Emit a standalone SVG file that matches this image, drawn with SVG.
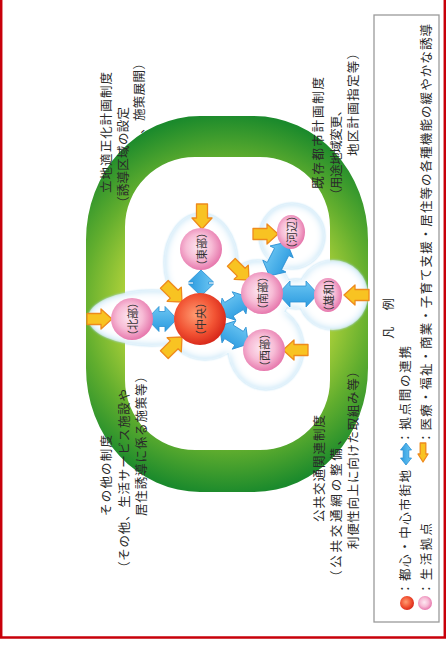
<svg xmlns="http://www.w3.org/2000/svg" xmlns:xlink="http://www.w3.org/1999/xlink" width="446" height="649" viewBox="0 0 446 649">
<style>
.t{font-family:"Noto Sans CJK JP","Noto Sans CJK SC",sans-serif;font-size:12.5px;fill:#2a2a2a;dominant-baseline:central}
.nl{font-family:"Noto Sans CJK JP","Noto Sans CJK SC",sans-serif;font-size:11px;fill:#333;dominant-baseline:central;text-anchor:middle}
.ya{fill:#f8c322;stroke:#ee8a1c;stroke-width:1.3;stroke-linejoin:round}
.ba{fill:url(#bg);stroke:#2a8fd3;stroke-width:0.8;stroke-linejoin:round}
.pk{fill:url(#pg)}
</style>
<defs>
<radialGradient id="gg" gradientUnits="userSpaceOnUse" cx="227" cy="304" r="200">
<stop offset="0.5" stop-color="#b0d23a"/>
<stop offset="0.72" stop-color="#62ae2e"/>
<stop offset="0.95" stop-color="#1b8a2c"/>
</radialGradient>
<radialGradient id="pg" cx="0.45" cy="0.45" r="0.55">
<stop offset="0" stop-color="#fde9f2"/>
<stop offset="0.55" stop-color="#f7bcd6"/>
<stop offset="1" stop-color="#e77aae"/>
</radialGradient>
<radialGradient id="rg" cx="0.42" cy="0.42" r="0.6">
<stop offset="0" stop-color="#ff9c72"/>
<stop offset="0.6" stop-color="#f25434"/>
<stop offset="1" stop-color="#d8281a"/>
</radialGradient>
<linearGradient id="bg" x1="0" y1="0" x2="0" y2="1">
<stop offset="0" stop-color="#6cc6f2"/>
<stop offset="1" stop-color="#2c9be0"/>
</linearGradient>
<filter id="b1" x="-20%" y="-20%" width="140%" height="140%"><feGaussianBlur stdDeviation="0.8"/></filter>
<filter id="b5" x="-30%" y="-30%" width="160%" height="160%"><feGaussianBlur stdDeviation="4.5"/></filter>
<ellipse id="h1" cx="152" cy="318" rx="64" ry="28"/>
<ellipse id="h2" cx="201" cy="263" rx="37" ry="50"/>
<ellipse id="h3" cx="258" cy="292" rx="33" ry="32"/>
<ellipse id="h4" cx="266" cy="348" rx="38" ry="42"/>
<ellipse id="h5" cx="205" cy="322" rx="40" ry="38"/>
<ellipse id="h6" cx="292" cy="236" rx="33" ry="33"/>
<ellipse id="h7" cx="333" cy="295" rx="35" ry="35"/>
<ellipse id="h8" cx="296" cy="294" rx="20" ry="15"/>
<clipPath id="hc">
<use xlink:href="#h1"/><use xlink:href="#h2"/><use xlink:href="#h3"/><use xlink:href="#h4"/><use xlink:href="#h5"/><use xlink:href="#h6"/><use xlink:href="#h7"/><use xlink:href="#h8"/>
</clipPath>
<polygon id="yarr" points="-25,-5.5 -11,-5.5 -11,-10 0,0 -11,10 -11,5.5 -25,5.5"/>
</defs>
<rect width="446" height="649" fill="#fff"/>
<g id="ring">
<path fill="url(#gg)" fill-rule="evenodd" d="M200,116 H254 A114,124 0 0 1 368,240 V368 A114,124 0 0 1 254,492 H200 A114,124 0 0 1 86,368 V240 A114,124 0 0 1 200,116 Z M195,157 H260 A70,70 0 0 1 330,227 V380 A70,70 0 0 1 260,450 H195 A70,70 0 0 1 125,380 V227 A70,70 0 0 1 195,157 Z"/>
</g>
<g id="halos">
<g fill="#a9d8f3" filter="url(#b1)">
<use xlink:href="#h1"/><use xlink:href="#h2"/><use xlink:href="#h3"/><use xlink:href="#h4"/><use xlink:href="#h5"/><use xlink:href="#h6"/><use xlink:href="#h7"/><use xlink:href="#h8"/>
</g>
<g clip-path="url(#hc)">
<g fill="#fff" filter="url(#b5)">
<use xlink:href="#h1"/><use xlink:href="#h2"/><use xlink:href="#h3"/><use xlink:href="#h4"/><use xlink:href="#h5"/><use xlink:href="#h6"/><use xlink:href="#h7"/><use xlink:href="#h8"/>
</g>
</g>
</g>
<g id="connectors">
<polygon class="ba" transform="translate(162,319)" points="-15,0 -3,-12.5 -3,-7.5 3,-7.5 3,-12.5 15,0 3,12.5 3,7.5 -3,7.5 -3,12.5"/>
<polygon class="ba" transform="translate(201,283) rotate(90)" points="-13,0 -1,-12.5 -1,-7.5 1,-7.5 1,-12.5 13,0 1,12.5 1,7.5 -1,7.5 -1,12.5"/>
<polygon class="ba" transform="translate(234,306) rotate(-32)" points="-17,0 -6,-13 -6,-8 6,-8 6,-13 17,0 6,13 6,8 -6,8 -6,13"/>
<polygon class="ba" transform="translate(234,335) rotate(32)" points="-17,0 -6,-13 -6,-8 6,-8 6,-13 17,0 6,13 6,8 -6,8 -6,13"/>
<polygon class="ba" transform="translate(298,294)" points="-20,0 -8,-13 -8,-8 8,-8 8,-13 20,0 8,13 8,8 -8,8 -8,13"/>
<polygon class="ba" transform="translate(278,259) rotate(-63)" points="-19,0 -8,-13 -8,-8 8,-8 8,-13 19,0 8,13 8,8 -8,8 -8,13"/>
<use class="ya" xlink:href="#yarr" transform="translate(112,319)"/>
<use class="ya" xlink:href="#yarr" transform="translate(202,229) rotate(90)"/>
<use class="ya" xlink:href="#yarr" transform="translate(278,234)"/>
<use class="ya" xlink:href="#yarr" transform="translate(182,302) rotate(45)"/>
<use class="ya" xlink:href="#yarr" transform="translate(182,337) rotate(-45)"/>
<use class="ya" xlink:href="#yarr" transform="translate(249,280) rotate(45)"/>
<use class="ya" xlink:href="#yarr" transform="translate(283,350) rotate(180)"/>
<use class="ya" xlink:href="#yarr" transform="translate(344,295) rotate(180)"/>
</g>
<g id="n-chuo"><circle cx="200" cy="319" r="26" fill="url(#rg)"/><text class="nl" transform="translate(200,319) rotate(-90)">（中央）</text></g>
<g id="n-hokubu"><circle class="pk" cx="132" cy="319" r="21"/><text class="nl" transform="translate(132,319) rotate(-90)">（北部）</text></g>
<g id="n-tobu"><circle class="pk" cx="201" cy="249" r="21"/><text class="nl" transform="translate(201,249) rotate(-90)">（東部）</text></g>
<g id="n-nanbu"><circle class="pk" cx="262" cy="293" r="21"/><text class="nl" transform="translate(262,293) rotate(-90)">（南部）</text></g>
<g id="n-seibu"><circle class="pk" cx="264" cy="350" r="21"/><text class="nl" transform="translate(264,350) rotate(-90)">（西部）</text></g>
<g id="n-kawabe"><ellipse class="pk" cx="291" cy="232" rx="14" ry="17"/><text class="nl" transform="translate(291,232) rotate(-90)">（河辺）</text></g>
<g id="n-yuwa"><ellipse class="pk" cx="328" cy="295" rx="14" ry="17"/><text class="nl" transform="translate(328,295) rotate(-90)">（雄和）</text></g>
<g id="labels">
<text class="t" transform="translate(105,193) rotate(-90)" textLength="121" lengthAdjust="spacing">立地適正化計画制度</text>
<text class="t" transform="translate(122,209) rotate(-90)" textLength="102" lengthAdjust="spacing">（誘導区域の設定</text>
<text class="t" transform="translate(138,134) rotate(-90)" textLength="77" lengthAdjust="spacing">、施策展開）</text>
<text class="t" transform="translate(105,516) rotate(-90)" textLength="81" lengthAdjust="spacing">その他の制度</text>
<text class="t" transform="translate(123,574) rotate(-90)" textLength="185" lengthAdjust="spacing">（その他、生活サービス施設や</text>
<text class="t" transform="translate(140,516) rotate(-90)" textLength="146" lengthAdjust="spacing">居住誘導に係る施策等）</text>
<text class="t" transform="translate(317,189) rotate(-90)" textLength="112" lengthAdjust="spacing">既存都市計画制度</text>
<text class="t" transform="translate(335,201) rotate(-90)" textLength="97" lengthAdjust="spacing">（用途地域変更、</text>
<text class="t" transform="translate(352,156) rotate(-90)" textLength="109" lengthAdjust="spacing">地区計画指定等）</text>
<text class="t" transform="translate(318,522) rotate(-90)" textLength="107" lengthAdjust="spacing">公共交通関連制度</text>
<text class="t" transform="translate(335,583) rotate(-90)" textLength="150" lengthAdjust="spacing">（公共交通網の整備、</text>
<text class="t" transform="translate(352,549) rotate(-90)" textLength="184" lengthAdjust="spacing">利便性向上に向けた取組み等）</text>
</g>
<g id="legend">
<rect x="374" y="15" width="65" height="607" fill="#fff" stroke="#9a9a9a" stroke-width="1.3"/>
<text class="t" transform="translate(387,339) rotate(-90)" textLength="41" lengthAdjust="spacing">凡　例</text>
<circle cx="407" cy="603" r="7" fill="url(#rg)"/>
<text class="t" transform="translate(404,595) rotate(-90)" textLength="125" lengthAdjust="spacing">：都心・中心市街地</text>
<polygon class="ba" transform="translate(406,454) rotate(90)" points="-11,0 -4,-5.5 -4,-2.8 4,-2.8 4,-5.5 11,0 4,5.5 4,2.8 -4,2.8 -4,5.5"/>
<text class="t" transform="translate(404,444) rotate(-90)" textLength="98" lengthAdjust="spacing">：拠点間の連携</text>
<circle class="pk" cx="425" cy="603" r="7"/>
<text class="t" transform="translate(425,595) rotate(-90)" textLength="72" lengthAdjust="spacing">：生活拠点</text>
<polygon class="ya" transform="translate(423,462) rotate(90)" points="-19,-2.8 -8,-2.8 -8,-5 0,0 -8,5 -8,2.8 -19,2.8"/>
<text class="t" transform="translate(425,444) rotate(-90)" textLength="420" lengthAdjust="spacing">：医療・福祉・商業・子育て支援・居住等の各種機能の緩やかな誘導</text>
</g>
<path d="M1.2,0 V637.5 H444.8 V0" fill="none" stroke="#c8000a" stroke-width="2.5"/>
</svg>
